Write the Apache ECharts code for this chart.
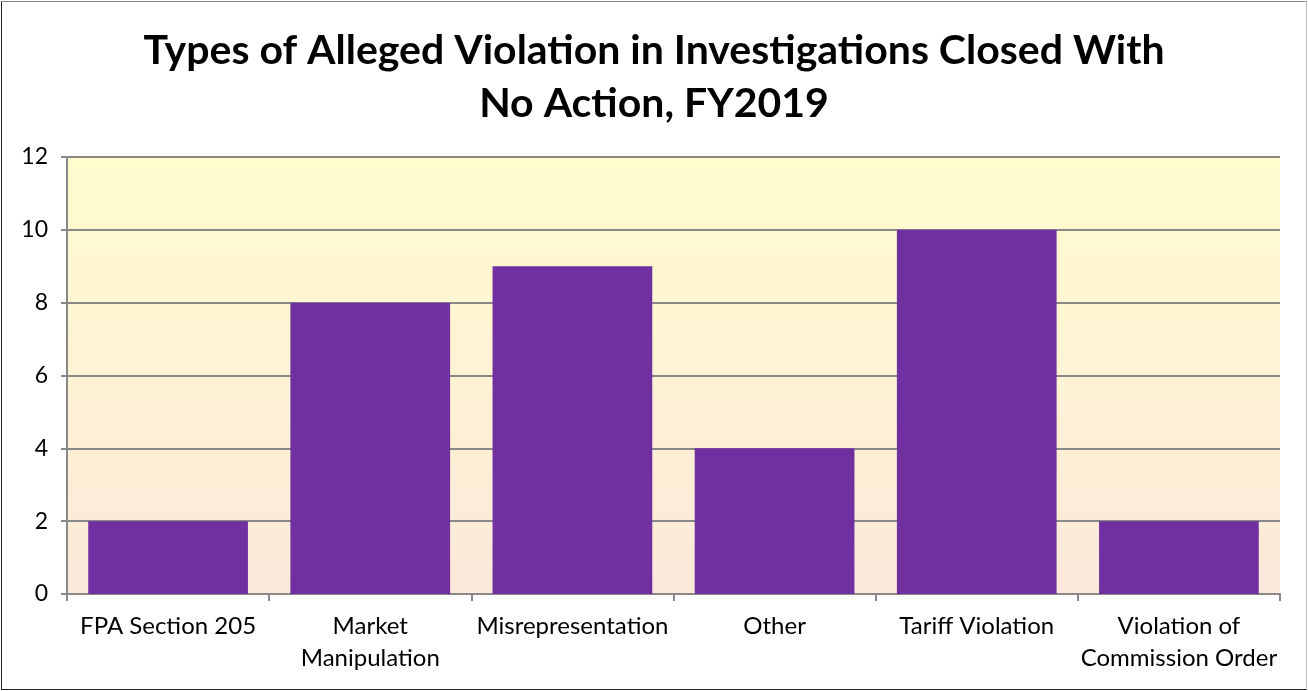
<!DOCTYPE html>
<html>
<head>
<meta charset="utf-8">
<script src="https://cdn.jsdelivr.net/npm/echarts@6/dist/echarts.min.js"></script>
<style>
  html, body { margin: 0; padding: 0; background: #fff; }
  #main { position: absolute; left: 1px; top: 1px; width: 1304px; height: 687px; border: 1.5px solid #222; border-right-color: #bbb; border-top-color: #888; }
</style>
</head>
<body>
<div id="main"></div>
<script>
// chart data
var categories = ['FPA Section 205', 'Market\nManipulation', 'Misrepresentation', 'Other', 'Tariff Violation', 'Violation of\nCommission Order'];
var counts = [2, 8, 9, 4, 10, 2];

var myChart = echarts.init(document.getElementById('main'));

var option = {
    animation: false,
    textStyle: { fontFamily: 'Lato' },
    title: {
        text: 'Types of Alleged Violation in Investigations Closed With\nNo Action, FY2019',
        left: 'center',
        top: 17,
        textStyle: { fontFamily: 'Lato', fontWeight: 'bold', fontSize: 41, lineHeight: 53, color: '#000' }
    },
    grid: {
        left: 65, right: 26, top: 155, bottom: 95,
        show: true,
        borderWidth: 0,
        backgroundColor: new echarts.graphic.LinearGradient(0, 0, 0, 1, [
            { offset: 0, color: '#fffcce' },
            { offset: 1, color: '#fce8da' }
        ])
    },
    xAxis: {
        type: 'category',
        data: categories,
        axisLine: { lineStyle: { color: '#888', width: 2 } },
        axisTick: { show: true, length: 7, lineStyle: { color: '#888', width: 2 } },
        axisLabel: { interval: 0, color: '#000', fontSize: 24, lineHeight: 32, margin: 16 }
    },
    yAxis: {
        type: 'value',
        min: 0, max: 12, interval: 2,
        axisLine: { show: true, lineStyle: { color: '#888', width: 2 } },
        axisTick: { show: true, length: 6, lineStyle: { color: '#888', width: 2 } },
        splitLine: { lineStyle: { color: '#888', width: 2 } },
        axisLabel: { color: '#000', fontSize: 23, margin: 19 }
    },
    series: [
        {
            type: 'bar',
            data: counts,
            barWidth: '79%',
            itemStyle: { color: '#7030a0' }
        }
    ]
};

myChart.setOption(option);
</script>
</body>
</html>
